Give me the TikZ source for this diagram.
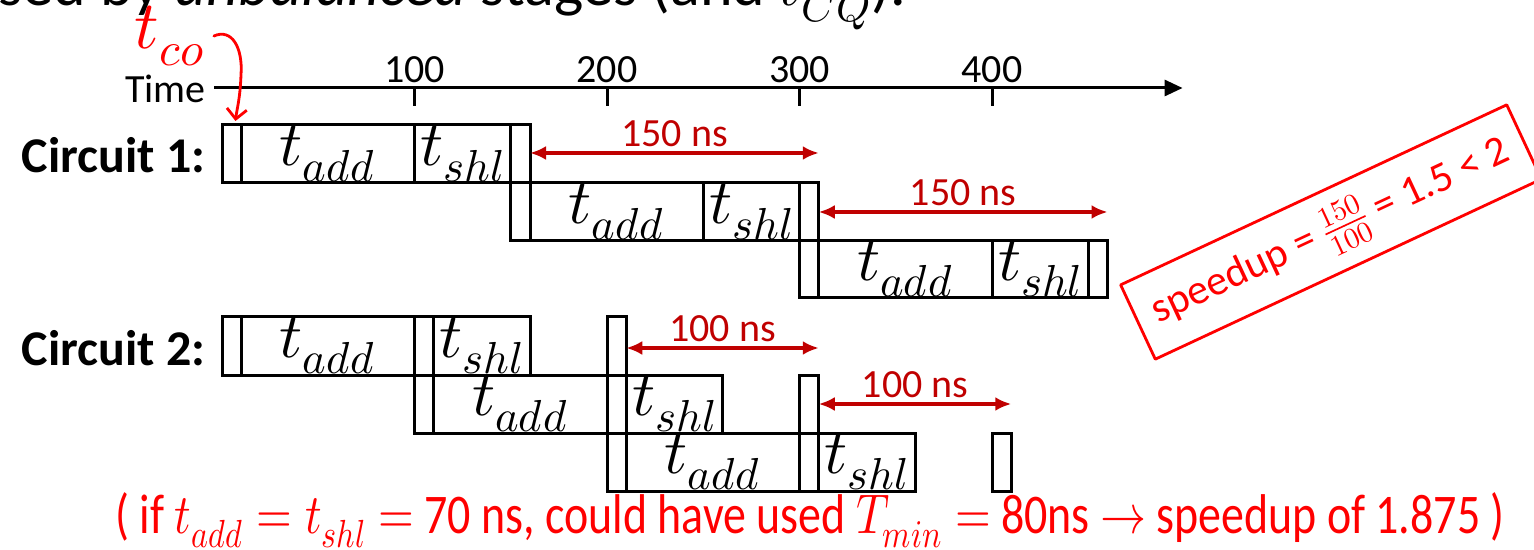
\documentclass[tikz,border=0pt]{standalone}
\usepackage{fontspec}
\usepackage{unicode-math}
\setmainfont{Carlito}
\usetikzlibrary{arrows.meta}
\definecolor{dimred}{RGB}{192,0,0}
\definecolor{penred}{RGB}{255,0,0}
\tikzset{
  stage/.style={line width=1.5pt},
  dimarrow/.style={dimred, line width=2pt, {Latex[length=8pt,width=7pt]}-{Latex[length=8pt,width=7pt]}},
  dimlabel/.style={dimred, font=\fontsize{20}{22}\selectfont, inner sep=0pt, above=2pt},
  opname/.style={font=\fontsize{32}{36}\selectfont},
  pen/.style={penred, line width=1.4pt, line cap=round, line join=round},
}

\begin{document}
\begin{tikzpicture}[x=0.5pt,y=-0.5pt]
  \useasboundingbox (0,0) rectangle (1534,550);
  % cropped heading line
  \node[anchor=base west, inner sep=0pt, font=\fontsize{31}{34}\selectfont] (head) at (-2,6) {sed by \textit{unbalanced} stages (and $t_{CQ}$).};
  \node[anchor=east, inner sep=0pt, font=\fontsize{20}{24}\selectfont] (time) at (206,89) {Time};
  \node[anchor=east, inner sep=0pt, font=\bfseries\fontsize{25}{30}\selectfont] (circ1) at (206,155) {Circuit 1:};
  \node[anchor=east, inner sep=0pt, font=\bfseries\fontsize{25}{30}\selectfont] (circ2) at (206,348) {Circuit 2:};

  \begin{scope}[shift={(222,0)}, x=0.9625pt]
    % time axis, 1 unit = 1 ns
    \draw[stage, -{Triangle[length=9pt,width=8pt]}] (-4,88) -- (499,88);
    \foreach \t in {100,200,300,400}{
      \draw[stage] (\t,88) -- (\t,106);
      \node[font=\fontsize{20}{24}\selectfont] (tick\t) at (\t,70) {\t};
    }

    % circuit 1
    \draw[stage] (0,125) rectangle (160,183);
    \draw[stage] (10,125) -- (10,183);
    \draw[stage] (100,125) -- (100,183);
    \draw[stage] (150,125) -- (150,183);
    \draw[stage] (150,183) rectangle (310,241);
    \draw[stage] (160,183) -- (160,241);
    \draw[stage] (250,183) -- (250,241);
    \draw[stage] (300,183) -- (300,241);
    \draw[stage] (300,241) rectangle (460,298);
    \draw[stage] (310,241) -- (310,298);
    \draw[stage] (400,241) -- (400,298);
    \draw[stage] (450,241) -- (450,298);
    \node[opname] (a11) at (55,154) {$t_{add}$};
    \node[opname] (s11) at (125,154) {$t_{shl}$};
    \node[opname] (a12) at (205,212) {$t_{add}$};
    \node[opname] (s12) at (275,212) {$t_{shl}$};
    \node[opname] (a13) at (355,269) {$t_{add}$};
    \node[opname] (s13) at (425,269) {$t_{shl}$};

    % circuit 2
    \draw[stage] (0,317) rectangle (160,375);
    \draw[stage] (10,317) -- (10,375);
    \draw[stage] (100,317) -- (100,375);
    \draw[stage] (110,317) -- (110,375);
    \draw[stage] (200,317) rectangle (210,375);
    \draw[stage] (100,375) rectangle (260,433);
    \draw[stage] (110,375) -- (110,433);
    \draw[stage] (200,375) -- (200,433);
    \draw[stage] (210,375) -- (210,433);
    \draw[stage] (300,375) rectangle (310,433);
    \draw[stage] (200,433) rectangle (360,491);
    \draw[stage] (210,433) -- (210,491);
    \draw[stage] (300,433) -- (300,491);
    \draw[stage] (310,433) -- (310,491);
    \draw[stage] (400,433) rectangle (410,491);
    \node[opname] (a21) at (55,346) {$t_{add}$};
    \node[opname] (s21) at (135,346) {$t_{shl}$};
    \node[opname] (a22) at (155,404) {$t_{add}$};
    \node[opname] (s22) at (235,404) {$t_{shl}$};
    \node[opname] (a23) at (255,462) {$t_{add}$};
    \node[opname] (s23) at (335,462) {$t_{shl}$};

    % cycle times
    \coordinate (p1) at (160,153);
    \coordinate (p2) at (310,153);
    \coordinate (p3) at (310,212);
    \coordinate (p4) at (460,212);
    \coordinate (q1) at (210,348);
    \coordinate (q2) at (310,348);
    \coordinate (q3) at (310,404);
    \coordinate (q4) at (410,404);
    \draw[dimarrow] (p1) -- (p2) node[dimlabel, midway] (c1t1) {150 ns};
    \draw[dimarrow] (p3) -- (p4) node[dimlabel, midway] (c1t2) {150 ns};
    \draw[dimarrow] (q1) -- (q2) node[dimlabel, midway] (c2t1) {100 ns};
    \draw[dimarrow] (q3) -- (q4) node[dimlabel, midway] (c2t2) {100 ns};
    \coordinate (reg0) at (7,121);
  \end{scope}

  % red pen notes
  \node[penred, inner sep=0pt, font=\fontsize{34}{38}\selectfont] (tco) at (170,36) {$t_{co}$};
  \draw[pen, -{Straight Barb[length=5pt]}] ([xshift=4pt]tco.east) .. controls (232,28) and (243,48) .. (241,75) .. controls (240,100) and (237,108) .. (reg0);
  \node[pen, draw, rotate=25, minimum width=213pt, minimum height=41pt, inner sep=0pt, font=\fontsize{21}{24}\selectfont] (speedup) at (1331,232) {speedup = $\frac{150}{100}$ = 1.5 < 2};
  \node[penred, inner sep=0pt, xscale=0.82, font=\fontsize{28}{32}\selectfont] (note) at (810,520) {( if $t_{add} = t_{shl} =$ 70 ns, could have used $T_{min} =$ 80ns $\rightarrow$ speedup of 1.875 )};
\end{tikzpicture}
\end{document}
